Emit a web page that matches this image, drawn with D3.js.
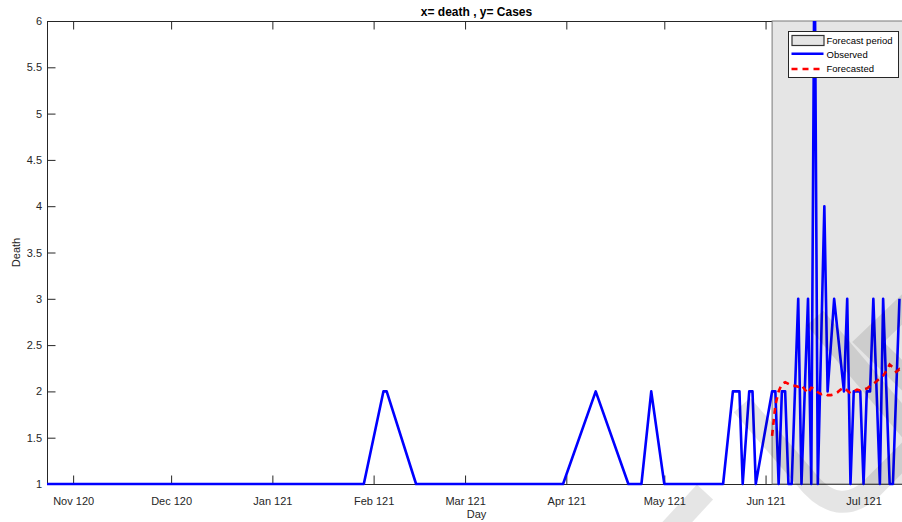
<!DOCTYPE html>
<html>
<head>
    <meta charset="utf-8">
    <style>
        body { margin: 0; background: #fff; }
        svg { display: block; font-family: Arial, 'Liberation Sans', sans-serif; }
    </style>
</head>
<body>
    <svg width="902" height="522"></svg>
</body>
<script src="https://d3js.org/d3.v7.min.js"></script>
<script>
    // observed deaths (only the days the line changes direction)
    let obsDates = [
        "2020-10-24", "2021-01-29", "2021-02-04", "2021-02-05", "2021-02-14",
        "2021-03-31", "2021-04-10", "2021-04-20", "2021-04-24", "2021-04-27",
        "2021-05-01", "2021-05-19", "2021-05-22", "2021-05-24", "2021-05-25",
        "2021-05-27", "2021-05-28", "2021-05-29", "2021-06-03", "2021-06-04",
        "2021-06-05", "2021-06-06", "2021-06-07", "2021-06-08", "2021-06-09",
        "2021-06-11", "2021-06-12", "2021-06-14", "2021-06-15", "2021-06-16",
        "2021-06-17", "2021-06-19", "2021-06-20", "2021-06-22", "2021-06-25",
        "2021-06-26", "2021-06-27", "2021-06-28", "2021-06-30", "2021-07-01",
        "2021-07-02", "2021-07-03", "2021-07-04", "2021-07-06", "2021-07-07",
        "2021-07-09", "2021-07-10", "2021-07-12"
    ]
    let obsValues = [
        1, 1, 2, 2, 1,
        1, 2, 1, 1, 2,
        1, 1, 2, 2, 1,
        2, 2, 1, 2, 2,
        1, 2, 2, 1, 1,
        3, 1, 3, 1, 7,
        1, 4, 2, 3, 2,
        3, 1, 2, 2, 1,
        2, 2, 3, 1, 3,
        1, 1, 3
    ]

    // forecast, one value per day from the forecast start
    let forecastStart = "2021-06-03"
    let forecastValues = [
        1.52, 1.85, 2.00, 2.08, 2.10, 2.08, 2.06, 2.06, 2.05, 2.07,
        2.02, 1.98, 2.04, 2.03, 1.99, 1.97, 1.98, 1.96, 1.96, 1.97,
        1.99, 2.02, 2.04, 2.01, 1.98, 2.00, 2.02, 2.01,
        2.02, 2.03, 2.06, 2.08, 2.11, 2.14, 2.17, 2.22, 2.29, 2.26,
        2.21, 2.24, 2.22
    ]

    let xDomain = ["2020-10-24", "2021-07-14"]
    let yTicks = [1, 1.5, 2, 2.5, 3, 3.5, 4, 4.5, 5, 5.5, 6]
    let legendLabels = ["Forecast period", "Observed", "Forecasted"]

    let parse = d3.timeParse("%Y-%m-%d")
    let svg = d3.select("svg")
    let margin = { top: 21, right: -4, bottom: 38, left: 47 }
    let width = 902 - margin.left - margin.right
    let height = 522 - margin.top - margin.bottom
    let axisColor = "#262626"

    let x = d3.scaleTime()
        .domain(xDomain.map(parse))
        .range([margin.left, margin.left + width])
    let y = d3.scaleLinear()
        .domain([1, 6])
        .range([margin.top + height, margin.top])

    let observed = obsDates.map((d, i) => ({ date: parse(d), value: obsValues[i] }))
    let fDates = d3.timeDay.range(parse(forecastStart), d3.timeDay.offset(parse(forecastStart), forecastValues.length))
    let forecast = fDates.map((d, i) => ({ date: d, value: forecastValues[i] }))

    svg.append("rect").attr("width", 902).attr("height", 522).attr("fill", "#fff")

    svg.append("defs").append("clipPath").attr("id", "clip")
        .append("rect")
        .attr("x", margin.left).attr("y", margin.top)
        .attr("width", width).attr("height", height + 3)

    // axes (drawn under the data, like matlab)
    let monthTicks = d3.timeMonth.range(parse("2020-11-01"), parse("2021-07-02"))
    let fmt = d => d3.timeFormat("%b")(d) + " " + (d.getFullYear() - 1900)
    let tickLen = 8.5

    let xAxis = d3.axisBottom(x).tickValues(monthTicks).tickFormat(fmt).tickSizeInner(-tickLen).tickSizeOuter(0).tickPadding(13)
    svg.append("g")
        .attr("transform", `translate(0,${margin.top + height})`)
        .call(xAxis)
    let xTop = d3.axisTop(x).tickValues(monthTicks).tickFormat("").tickSizeInner(-tickLen).tickSizeOuter(0)
    svg.append("g")
        .attr("transform", `translate(0,${margin.top})`)
        .call(xTop)
    let yAxis = d3.axisLeft(y).tickValues(yTicks).tickFormat(d3.format("")).tickSizeInner(-tickLen).tickSizeOuter(0).tickPadding(5)
    svg.append("g")
        .attr("transform", `translate(${margin.left},0)`)
        .call(yAxis)
    let yRight = d3.axisRight(y).tickValues(yTicks).tickFormat("").tickSizeInner(-tickLen).tickSizeOuter(0)
    svg.append("g")
        .attr("transform", `translate(${margin.left + width},0)`)
        .call(yRight)

    svg.selectAll(".domain, .tick line").attr("stroke", axisColor).attr("stroke-width", 1)
    svg.selectAll(".tick text").attr("fill", axisColor).style("font-size", "11px")

    // forecast period patch
    svg.append("rect")
        .attr("x", x(parse(forecastStart)))
        .attr("y", margin.top)
        .attr("width", margin.left + width - x(parse(forecastStart)))
        .attr("height", height)
        .attr("fill", "#e5e5e5")
        .attr("stroke", "#7a7a7a")
        .attr("stroke-width", 1)

    let line = d3.line().x(d => x(d.date)).y(d => y(d.value))

    svg.append("path")
        .datum(observed)
        .attr("clip-path", "url(#clip)")
        .attr("d", line)
        .attr("fill", "none")
        .attr("stroke", "#0000ff")
        .attr("stroke-width", 2.6)
        .attr("stroke-linejoin", "round")

    svg.append("path")
        .datum(forecast)
        .attr("clip-path", "url(#clip)")
        .attr("d", line)
        .attr("fill", "none")
        .attr("stroke", "#ff0000")
        .attr("stroke-width", 2.6)
        .attr("stroke-dasharray", "6,5")

    // title and labels
    svg.append("text")
        .attr("x", margin.left + width / 2).attr("y", 16)
        .attr("text-anchor", "middle")
        .attr("font-weight", "bold")
        .style("font-size", "12px")
        .attr("fill", "#000")
        .text("x= death , y= Cases")
    svg.append("text")
        .attr("x", margin.left + width / 2).attr("y", 518)
        .attr("text-anchor", "middle")
        .style("font-size", "11px")
        .attr("fill", axisColor)
        .text("Day")
    svg.append("text")
        .attr("transform", `translate(20,${margin.top + height / 2}) rotate(-90)`)
        .attr("text-anchor", "middle")
        .style("font-size", "11px")
        .attr("fill", axisColor)
        .text("Death")

    // legend
    let lg = svg.append("g").attr("transform", "translate(788.5,31.5)")
    lg.append("rect").attr("width", 110).attr("height", 46)
        .attr("fill", "#fff").attr("stroke", axisColor).attr("stroke-width", 1)
    lg.append("rect").attr("x", 3.5).attr("y", 4).attr("width", 32).attr("height", 10)
        .attr("fill", "#e5e5e5").attr("stroke", "#333").attr("stroke-width", 1.2)
    lg.append("line").attr("x1", 3).attr("x2", 35).attr("y1", 22.3).attr("y2", 22.3)
        .attr("stroke", "#0000ff").attr("stroke-width", 2.6)
    lg.append("line").attr("x1", 3).attr("x2", 35).attr("y1", 37.5).attr("y2", 37.5)
        .attr("stroke", "#ff0000").attr("stroke-width", 2.6).attr("stroke-dasharray", "6,5")
    lg.selectAll(".lbl")
        .data(legendLabels)
        .join("text")
        .attr("x", 38).attr("y", (d, i) => 9.5 + i * 14)
        .attr("dy", "0.35em")
        .style("font-size", "9.5px")
        .attr("fill", "#000")
        .text(d => d)

    // faint watermark
    let wm = svg.append("g")
        .attr("fill", "none")
        .attr("stroke", "#000")
        .attr("stroke-opacity", 0.1)
        .attr("stroke-width", 22)
    wm.append("path").attr("d", "M742,405 L805,478 Q838,520 872,488 L915,445")
    wm.append("path").attr("d", "M815,318 L912,432")
    wm.append("path").attr("d", "M912,300 L868,342 L912,385")
    wm.append("path").attr("d", "M670,530 L705,492")
</script>
</html>
